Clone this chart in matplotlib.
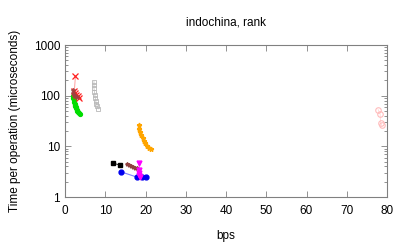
import matplotlib
matplotlib.use("Agg")
import matplotlib.pyplot as plt
from matplotlib.ticker import LogLocator, NullFormatter

plt.rcParams['font.family'] = ['Liberation Sans', 'DejaVu Sans']

red_x = [2.6, 2.3, 2.4, 2.8, 3.2, 3.6]
red_y = [240, 125, 112, 105, 98, 92]

brown_x = [1.9, 2.1, 2.3, 2.6, 2.9]
brown_y = [130, 115, 105, 100, 95]

green_x = [2.0, 2.1, 2.2, 2.3, 2.4, 2.5, 2.6, 2.7, 2.8, 3.0, 3.1, 3.3, 3.5, 3.7]
green_y = [100, 90, 82, 76, 70, 66, 62, 59, 56, 53, 50, 48, 46, 44]

gray_x = [7.2, 7.2, 7.2, 7.3, 7.4, 7.5, 7.6, 7.8, 8.0, 8.3]
gray_y = [190, 165, 140, 120, 105, 92, 80, 70, 62, 55]

orange_x = [18.4, 18.5, 18.7, 19.0, 19.3, 19.6, 19.9, 20.3, 20.8, 21.4]
orange_y = [26, 22, 19, 16.5, 14.5, 13, 11.5, 10.3, 9.4, 8.8]

black_x = [12.0, 13.7]
black_y = [4.6, 4.3]

dbrown_x = [15.5, 16.0, 16.5, 17.0, 17.5, 17.9]
dbrown_y = [4.5, 4.3, 4.1, 3.95, 3.8, 3.7]

blue_x = [13.8, 18.0, 19.2, 20.2]
blue_y = [3.16, 2.45, 2.45, 2.45]

mag_x = [18.5, 18.5, 18.3, 18.4, 18.6]
mag_y = [4.6, 3.4, 3.0, 2.7, 2.5]

pink_x = [77.8, 78.3, 78.4, 78.7]
pink_y = [53, 43, 29, 26]

fig = plt.figure(figsize=(4.07, 2.44), dpi=100)
ax = fig.add_axes([65/407, 1-197/244, (387-65)/407, (197-45)/244])

ax.plot(gray_x, gray_y, color='#c8c8c8', lw=0.6, marker='s', ms=3, mfc='none', mec='#b8b8b8', mew=0.6)
ax.plot(green_x, green_y, color='#00dd00', lw=0.8, marker='o', ms=2.8, mfc='#00dd00', mec='#00dd00')
ax.plot(red_x, red_y, color='#ffaaaa', lw=0.8, marker='x', ms=4, mec='#ff2020', mew=0.9)
ax.plot(brown_x, brown_y, color='#c08080', lw=0.5, marker='*', ms=3, mec='#a04040', mfc='#a04040', alpha=0.8)
ax.plot(orange_x, orange_y, color='#ffc040', lw=0.8, marker='*', ms=3.5, mec='#ffa500', mfc='#ffa500')
ax.plot(black_x, black_y, color='#000000', lw=0.6, marker='s', ms=3.5, mfc='black')
ax.plot(dbrown_x, dbrown_y, color='#b07070', lw=0.8, marker='*', ms=2.8, mec='#904040', mfc='#904040')
ax.plot(blue_x, blue_y, color='#8080ff', lw=0.8, marker='o', ms=3.5, mfc='#0000ee', mec='#0000ee')
ax.plot(mag_x, mag_y, color='#ff80ff', lw=0.8, marker='v', ms=3.5, mfc='#ff00ff', mec='#ff00ff')
ax.plot(pink_x, pink_y, color='#ffd8d8', lw=0.6, marker='o', ms=4, mfc='none', mec='#ffbcbc', mew=0.8)

ax.set_yscale('log')
ax.set_xlim(0, 80)
ax.set_ylim(1, 1000)
ax.set_xticks(range(0, 81, 10))
ax.set_yticks([1, 10, 100, 1000])
ax.set_yticklabels(['1', '10', '100', '1000'])
ax.yaxis.set_minor_locator(LogLocator(base=10, subs=range(2, 10)))
ax.yaxis.set_minor_formatter(NullFormatter())

for s in ax.spines.values():
    s.set_color('#808080')
    s.set_linewidth(0.8)
ax.tick_params(which='both', direction='in', top=True, right=True, colors='#808080',
               labelcolor='black', labelsize=8.5, width=0.6)
ax.tick_params(which='major', length=4)
ax.tick_params(which='minor', length=2)
ax.tick_params(axis='x', pad=6)

ax.set_title('indochina, rank', fontsize=8.5, pad=14)
ax.set_xlabel('bps', fontsize=8.5, labelpad=9)
ax.set_ylabel('Time per operation (microseconds)', fontsize=8.5, labelpad=9)

fig.savefig('out.png', dpi=100)
